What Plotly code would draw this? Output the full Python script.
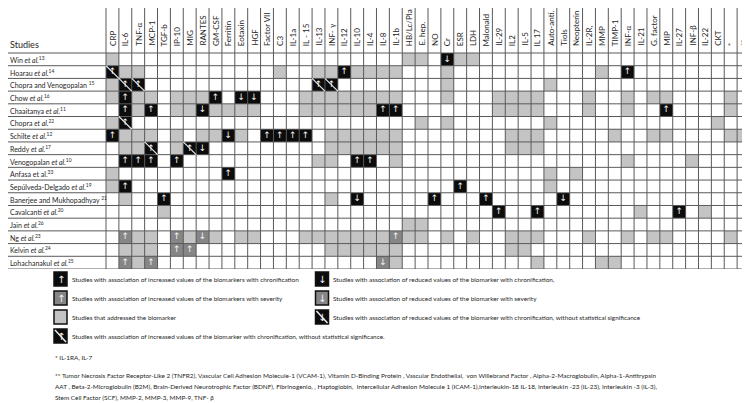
import plotly.graph_objects as go

columns = ["CRP", "IL-6", "TNF-α", "MCP-1", "TGF-b", "IP-10", "MIG", "RANTES", "GM-CSF", "Ferritin",
           "Eotaxin", "HGF", "Factor VII", "C3", "IL-1a", "IL - 15", "IL-13", "INF- γ", "IL-12", "IL-10",
           "IL-4", "IL-8", "IL-1b", "HB/Lc/Pla", "E. hep.", "NO", "Cr", "ESR", "LDH", "Malonald",
           "IL-29", "IL2", "IL-5", "IL 17", "Auto-anti.", "Tiols", "Neopterin", "IL-2R,", "MMP", "TIMP-1",
           "INF-α", "IL-21", "G. factor", "MIP", "IL-27", "INF-β", "IL-22", "CKT", "*", "**"]

studies = ["Win <i>et al.</i><sup>13</sup>",
           "Hoarau <i>et al.</i><sup>14</sup>",
           "Chopra and Venogopalan <sup>15</sup>",
           "Chow <i>et al.</i><sup>16</sup>",
           "Chaaitanya <i>et al.</i><sup>11</sup>",
           "Chopra <i>et al.</i><sup>22</sup>",
           "Schilte <i>et al.</i><sup>12</sup>",
           "Reddy <i>et al.</i><sup>17</sup>",
           "Venogopalan <i>et al.</i><sup>10</sup>",
           "Anfasa et al.<sup>33</sup>",
           "Sepúlveda-Delgado <i>et al.</i><sup>19</sup>",
           "Banerjee and Mukhopadhyay <sup>21</sup>",
           "Cavalcanti <i>et al.</i><sup>20</sup>",
           "Jain <i>et al.</i><sup>26</sup>",
           "Ng <i>et al.</i><sup>23</sup>",
           "Kelvin <i>et al.</i><sup>24</sup>",
           "Lohachanakul <i>et al.</i><sup>25</sup>"]

# cell codes per study, 50 columns in blocks of 10:
# '.' not addressed, 'g' addressed, 'U' increased/chronification, 'D' reduced/chronification,
# 'N' increased/chronification without significance, 'S' increased/severity, 'T' reduced/severity
cells = [
    "g.........|..........|...gg.Dgg.|..........|..........",
    "Ngg.......|...g..ggUg|ggg...g...|........g.|U.........",
    "gNN.......|......NN..|......g...|....g.....|..........",
    "gUgg.gggU.|DD...ggggg|ggg...g...|gggg...g..|g.gg....g.",
    ".UgU.ggDgg|gg...ggggg|gUU.......|gggg...g..|g..U....g.",
    "gN........|..........|....g.g...|....g.....|.......g..",
    "Uggg.g.ggD|g.UUUU.ggg|ggg.......|.ggg.....g|..gg....gg",
    ".ggN.gND..|.......ggg|ggg.......|.ggg......|..........",
    ".UUU.U....|......gg.U|U.g.......|..........|g....g....",
    "g........U|..........|..........|....g.g...|..........",
    "gU........|..........|.......U..|....g.....|..........",
    ".g..U.....|.......g.D|.....U...U|.....D....|..........",
    "....g.....|..........|..........|U..U......|.g..U.g...",
    "..........|..........|...gg.....|..........|..........",
    ".Sgg.SgTg.|gg...ggggg|ggSgg.g.g.|.ggg...g..|g.gg....g.",
    ".ggg.SS...|.......ggg|ggg.......|.gg.......|..........",
    ".SgS......|..........|.Tg.......|...g....gg|..........",
]

legend_items = [
    ("U", "Studies with association of increased values of the biomarkers with chronification"),
    ("S", "Studies with association of increased values of the biomarkers with severity"),
    ("g", "Studies that addressed the biomarker"),
    ("N", "Studies with association of increased values of the biomarker with chronification, without statistical significance."),
    ("D", "Studies with association of reduced values of the biomarker with chronification,"),
    ("T", "Studies with association of reduced values of the biomarker with severity"),
    ("M", "Studies with association of reduced values of the biomarker with chronification, without statistical significance"),
]

footnote_star = "* IL-1RA, IL-7"
footnote_dstar = [
    "** Tumor Necrosis Factor Receptor-Like 2 (TNFR2), Vascular Cell Adhesion Molecule-1 (VCAM-1), Vitamin D-Binding Protein , Vascular Endothelial,  von Willebrand Factor , Alpha-2-Macroglobulin, Alpha-1-Antitrypsin",
    "AAT , Beta-2-Microglobulin (B2M), Brain-Derived Neurotrophic Factor (BDNF), Fibrinogenio, , Haptoglobin,  Intercellular Adhesion Molecule 1 (ICAM-1),Interleukin-18 IL-18, Interleukin -23 (IL-23), Interleukin -3 (IL-3),",
    "Stem Cell Factor (SCF), MMP-2, MMP-3, MMP-9, TNF- β",
]

# ---------------------------------------------------------------- styling
VIEW_W, VIEW_H = 750, 403     # browser window
OFF = 8                       # default page margin around the figure
W, H = VIEW_W - OFF, VIEW_H - OFF
TABLE_BOTTOM = 269            # px (window coords) of table bottom
COL_W = 12.88
LABEL_RIGHT = 106             # window x where first data column starts
HEADER_BOTTOM = 53            # window y of header/rows boundary
TXT_FONT = "Lato, 'Open Sans', sans-serif"
ARROW_FONT = "DejaVu Sans"
C_WHITE, C_LIGHT, C_DARK, C_BLACK = "#ffffff", "#c4c4c4", "#868686", "#0c0c0c"
GRID = "#5a5a5a"
TEXT_C = "#262626"

level = {".": 0, "g": 1, "S": 2, "T": 2, "U": 3, "D": 3, "N": 3}
rows = [r.replace("|", "") for r in cells]
nrow, ncol = len(rows), len(columns)
z = [[level[c] for c in r] for r in rows]

row_h = (TABLE_BOTTOM - HEADER_BOTTOM) / nrow
x_left = -0.5 - (LABEL_RIGHT - OFF) / COL_W
y_top = -0.5 - (HEADER_BOTTOM - OFF) / row_h
table_h = TABLE_BOTTOM - OFF

fig = go.Figure()
fig.add_trace(go.Heatmap(
    x=list(range(ncol)), y=list(range(nrow)), z=z, zmin=-0.5, zmax=3.5,
    colorscale=[[0, C_WHITE], [0.25, C_WHITE], [0.25, C_LIGHT], [0.5, C_LIGHT],
                [0.5, C_DARK], [0.75, C_DARK], [0.75, C_BLACK], [1, C_BLACK]],
    showscale=False, hoverinfo="skip"))

# grid lines
gx, gy = [], []
for k in range(ncol + 1):
    gx += [k - 0.5, k - 0.5, None]
    gy += [y_top, nrow - 0.5, None]
for r in range(nrow + 1):
    gx += [x_left, ncol - 0.5, None]
    gy += [r - 0.5, r - 0.5, None]
fig.add_trace(go.Scatter(x=gx, y=gy, mode="lines", line=dict(color=GRID, width=1),
                         hoverinfo="skip", showlegend=False))

# diagonals for non-significant cells
dx, dy = [], []
for r, row in enumerate(rows):
    for c, code in enumerate(row):
        if code == "N":
            dx += [c - 0.5, c + 0.5, None]
            dy += [r - 0.5, r + 0.5, None]
fig.add_trace(go.Scatter(x=dx, y=dy, mode="lines", line=dict(color="#e8e8e8", width=1.2),
                         hoverinfo="skip", showlegend=False))

# arrows
ax, ay, at = [], [], []
for r, row in enumerate(rows):
    for c, code in enumerate(row):
        if code in "USN":
            ax.append(c); ay.append(r); at.append("↑")
        elif code in "DT":
            ax.append(c); ay.append(r); at.append("↓")
fig.add_trace(go.Scatter(x=ax, y=ay, mode="text", text=at,
                         textfont=dict(color="#f4f4f4", size=9, family=ARROW_FONT),
                         hoverinfo="skip", showlegend=False))

ann = []
for i, name in enumerate(columns):
    ann.append(dict(x=i, y=-0.5, xref="x", yref="y", text=name, textangle=-90,
                    xanchor="center", yanchor="bottom", yshift=5, showarrow=False,
                    font=dict(family=TXT_FONT, size=8, color=TEXT_C)))
for r, name in enumerate(studies):
    ann.append(dict(x=x_left, y=r, xref="x", yref="y", text=name, xanchor="left",
                    yanchor="middle", xshift=0, showarrow=False,
                    font=dict(family=TXT_FONT, size=7, color=TEXT_C)))
ann.append(dict(x=x_left, y=-0.5, xref="x", yref="y", text="Studies", xanchor="left",
                yanchor="bottom", xshift=0, yshift=1, showarrow=False,
                font=dict(family=TXT_FONT, size=9, color=TEXT_C)))

# ---------------------------------------------------------------- legend
def px(x):
    return (x - OFF) / W

def py(y):
    return 1 - (y - OFF) / H

shapes = []
icon_fill = {"U": C_BLACK, "D": C_BLACK, "N": C_BLACK, "M": C_BLACK, "S": C_DARK, "T": C_DARK, "g": C_LIGHT}
icon_arrow = {"U": "↑", "N": "↑", "S": "↑", "D": "↓", "T": "↓", "M": "↓", "g": ""}
leg_pos = [(60.5, 279), (60.5, 298), (60.5, 317), (60.5, 336), (322, 279), (322, 298), (322, 317)]
for (code, label), (cx, cy) in zip(legend_items, leg_pos):
    shapes.append(dict(type="rect", xref="paper", yref="paper",
                       x0=px(cx - 6.5), x1=px(cx + 6.5), y0=py(cy - 7), y1=py(cy + 7),
                       fillcolor=icon_fill[code], line=dict(color="#111", width=1.5)))
    if code in "NM":
        shapes.append(dict(type="line", xref="paper", yref="paper",
                           x0=px(cx - 5.5), x1=px(cx + 5.5), y0=py(cy - 6), y1=py(cy + 6),
                           line=dict(color="#eee", width=1.5)))
    if icon_arrow[code]:
        ann.append(dict(x=px(cx), y=py(cy), xref="paper", yref="paper", text=icon_arrow[code],
                        showarrow=False, xanchor="center", yanchor="middle",
                        font=dict(family=ARROW_FONT, size=10, color="#f4f4f4")))
    ann.append(dict(x=px(cx + 9), y=py(cy), xref="paper", yref="paper", text=label,
                    showarrow=False, xanchor="left", yanchor="middle",
                    font=dict(family=TXT_FONT, size=6.4, color=TEXT_C)))

ann.append(dict(x=px(53), y=py(357), xref="paper", yref="paper", text=footnote_star,
                showarrow=False, xanchor="left", yanchor="middle",
                font=dict(family=TXT_FONT, size=6.4, color=TEXT_C)))
for i, line in enumerate(footnote_dstar):
    ann.append(dict(x=px(53), y=py(375 + 11 * i), xref="paper", yref="paper", text=line,
                    showarrow=False, xanchor="left", yanchor="middle",
                    font=dict(family=TXT_FONT, size=6.4, color=TEXT_C)))

fig.update_layout(
    width=W, height=H, margin=dict(l=0, r=0, t=0, b=0),
    paper_bgcolor="white", plot_bgcolor="white", showlegend=False,
    xaxis=dict(range=[x_left, ncol - 0.5], domain=[0, 1], showgrid=False, zeroline=False,
               showticklabels=False, ticks=""),
    yaxis=dict(range=[nrow - 0.5, y_top], domain=[1 - table_h / H, 1], showgrid=False,
               zeroline=False, showticklabels=False, ticks=""),
    annotations=ann, shapes=shapes,
)

fig.write_html("out.html")
